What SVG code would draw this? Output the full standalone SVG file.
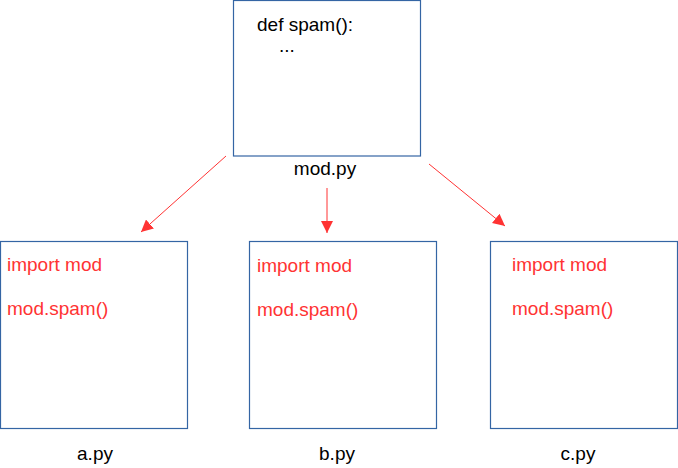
<svg xmlns="http://www.w3.org/2000/svg" width="678" height="468" viewBox="0 0 678 468">
<style>
.box{fill:#fff;stroke:#3465a4;stroke-width:1.2}
.t{font-family:"Liberation Sans",Arial,sans-serif;font-size:19px;fill:#000}
.r{fill:#ff3333}
.c{stroke:#ff3333;stroke-width:1;fill:none;marker-end:url(#ah)}
</style>
<defs>
<marker id="ah" viewBox="0 0 10 10" refX="10" refY="5" markerWidth="12" markerHeight="12" markerUnits="userSpaceOnUse" orient="auto">
<path d="M0,0 L10,5 L0,10 z" fill="#ff3333"/>
</marker>
</defs>
<rect width="678" height="468" fill="#fff"/>
<g id="mod">
<rect class="box" x="233.5" y="0.5" width="187" height="155.5"/>
<text class="t" x="257" y="31">def spam():</text>
<text class="t" x="279" y="52">...</text>
<text class="t" x="325" y="175" text-anchor="middle">mod.py</text>
</g>
<g id="a">
<rect class="box" x="0.5" y="241.5" width="187" height="187"/>
<text class="t r" x="7" y="271">import mod</text>
<text class="t r" x="7" y="315">mod.spam()</text>
<text class="t" x="95" y="460" text-anchor="middle">a.py</text>
</g>
<g id="b">
<rect class="box" x="249.5" y="241.5" width="187" height="187"/>
<text class="t r" x="257" y="272">import mod</text>
<text class="t r" x="257" y="316">mod.spam()</text>
<text class="t" x="337" y="460" text-anchor="middle">b.py</text>
</g>
<g id="c">
<rect class="box" x="490.5" y="241.5" width="187" height="187"/>
<text class="t r" x="512" y="271">import mod</text>
<text class="t r" x="512" y="315">mod.spam()</text>
<text class="t" x="578" y="460" text-anchor="middle">c.py</text>
</g>
<g id="connectors">
<line class="c" x1="226" y1="156" x2="141" y2="232"/>
<line class="c" x1="327" y1="188" x2="327" y2="233"/>
<line class="c" x1="429" y1="164" x2="505" y2="226"/>
</g>
</svg>
